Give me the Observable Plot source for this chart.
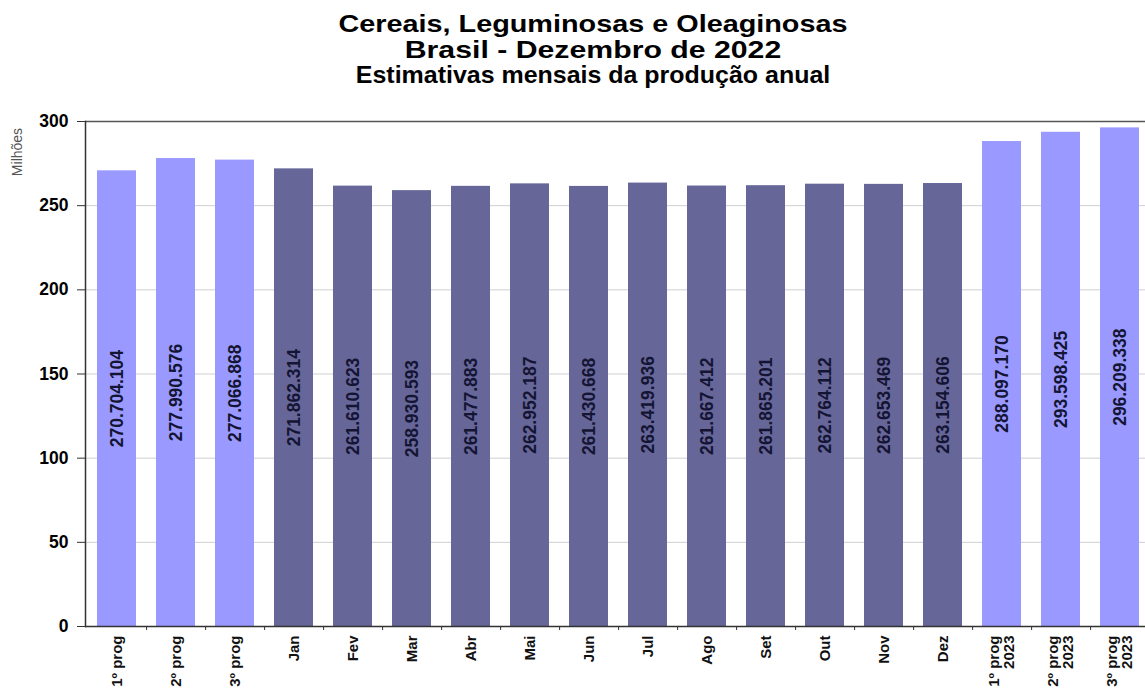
<!DOCTYPE html>
<html>
<head>
<meta charset="utf-8">
<script src="https://cdn.jsdelivr.net/npm/d3@7"></script>
<script src="https://cdn.jsdelivr.net/npm/@observablehq/plot@0.6"></script>
<style>
  body { margin: 0; background: #fff; font-family: "Liberation Sans", Arial, sans-serif; }
  #wrap { position: relative; width: 1145px; height: 689px; overflow: hidden; }
  #title { position: relative; width: 1145px; height: 100px; }
  .t { position: absolute; left: 593px; white-space: nowrap; font-weight: bold; font-size: 24px; line-height: 24px; color: #000;
       transform-origin: 50% 0; }
  #ylab { position: absolute; left: 17px; top: 152px; font-size: 14px; color: #555; white-space: nowrap;
          transform: translate(-50%, -50%) rotate(-90deg); }
</style>
</head>
<body>
<div id="wrap">
  <div id="title">
    <div class="t" style="top:12px; transform: translateX(-50%) scaleX(1.2)">Cereais, Leguminosas e Oleaginosas</div>
    <div class="t" style="top:38px; transform: translateX(-50%) scaleX(1.26)">Brasil - Dezembro de 2022</div>
    <div class="t" style="top:63px; transform: translateX(-50%) scaleX(1.04)">Estimativas mensais da produção anual</div>
  </div>
  <div id="ylab">Milhões</div>
  <div id="chart"></div>
</div>
<script>
// Categories (x axis tick labels)
const categories = ["1º prog", "2º prog", "3º prog", "Jan", "Fev", "Mar", "Abr", "Mai", "Jun", "Jul", "Ago", "Set", "Out", "Nov", "Dez", "1º prog\n2023", "2º prog\n2023", "3º prog\n2023"];
// Production estimates (tonnes)
const values = [270704104, 277990576, 277066868, 271862314, 261610623, 258930593, 261477883, 262952187, 261430668, 263419936, 261667412, 261865201, 262764112, 262653469, 263154606, 288097170, 293598425, 296209338];
// Series group for each bar
const groups = ["prog", "prog", "prog", "mes", "mes", "mes", "mes", "mes", "mes", "mes", "mes", "mes", "mes", "mes", "mes", "prog", "prog", "prog"];
// Y tick values (millions)
const yTicks = [0, 50, 100, 150, 200, 250, 300];

const data = categories.map((c, i) => ({cat: c, value: values[i], group: groups[i]}));
const fmt = d3.formatLocale({decimal: ",", thousands: ".", grouping: [3], currency: ["", ""]}).format(",d");

const chart = Plot.plot({
  width: 1145,
  height: 589,
  marginLeft: 85,
  marginRight: 0,
  marginTop: 21,
  marginBottom: 63,
  style: {fontFamily: "'Liberation Sans', Arial, sans-serif", background: "white", overflow: "visible"},
  x: {type: "band", domain: categories, range: [85, 1150.6], paddingInner: 0.34, paddingOuter: 0.17, label: null},
  y: {domain: [0, 300], label: null},
  color: {domain: ["prog", "mes"], range: ["#9999ff", "#666699"]},
  marks: [
    Plot.gridY(yTicks.filter(d => d > 0 && d < 300), {stroke: "#cfcfcf", strokeOpacity: 1, strokeWidth: 1}),
    Plot.ruleY([300], {stroke: "#555", strokeWidth: 1.6}),
    Plot.barY(data, {x: "cat", y: d => d.value / 1e6, fill: "group"}),
    Plot.text(data, {x: "cat", y: d => d.value / 2e6, text: d => fmt(d.value), rotate: -90,
      fontSize: 17.5, fontWeight: "bold", fill: "#141433"}),
    Plot.ruleY([0], {stroke: "#333", strokeWidth: 1.5}),
    Plot.frame({anchor: "left", stroke: "#333", strokeWidth: 1.5}),
    Plot.ruleX(categories, {x: d => d, y1: 0, y2: 0, insetBottom: -4, dx: 29.6, stroke: "#333"}),
    Plot.axisY(yTicks, {tickSize: 8, tickPadding: 9, fontSize: 17.5, fontWeight: "bold", label: null, stroke: "#333"}),
    Plot.axisX({tickRotate: -90, tickSize: 0, tickPadding: 9, fontSize: 15, fontWeight: "bold", label: null, fill: "#111"})
  ]
});
document.getElementById("chart").appendChild(chart);
</script>
</body>
</html>
